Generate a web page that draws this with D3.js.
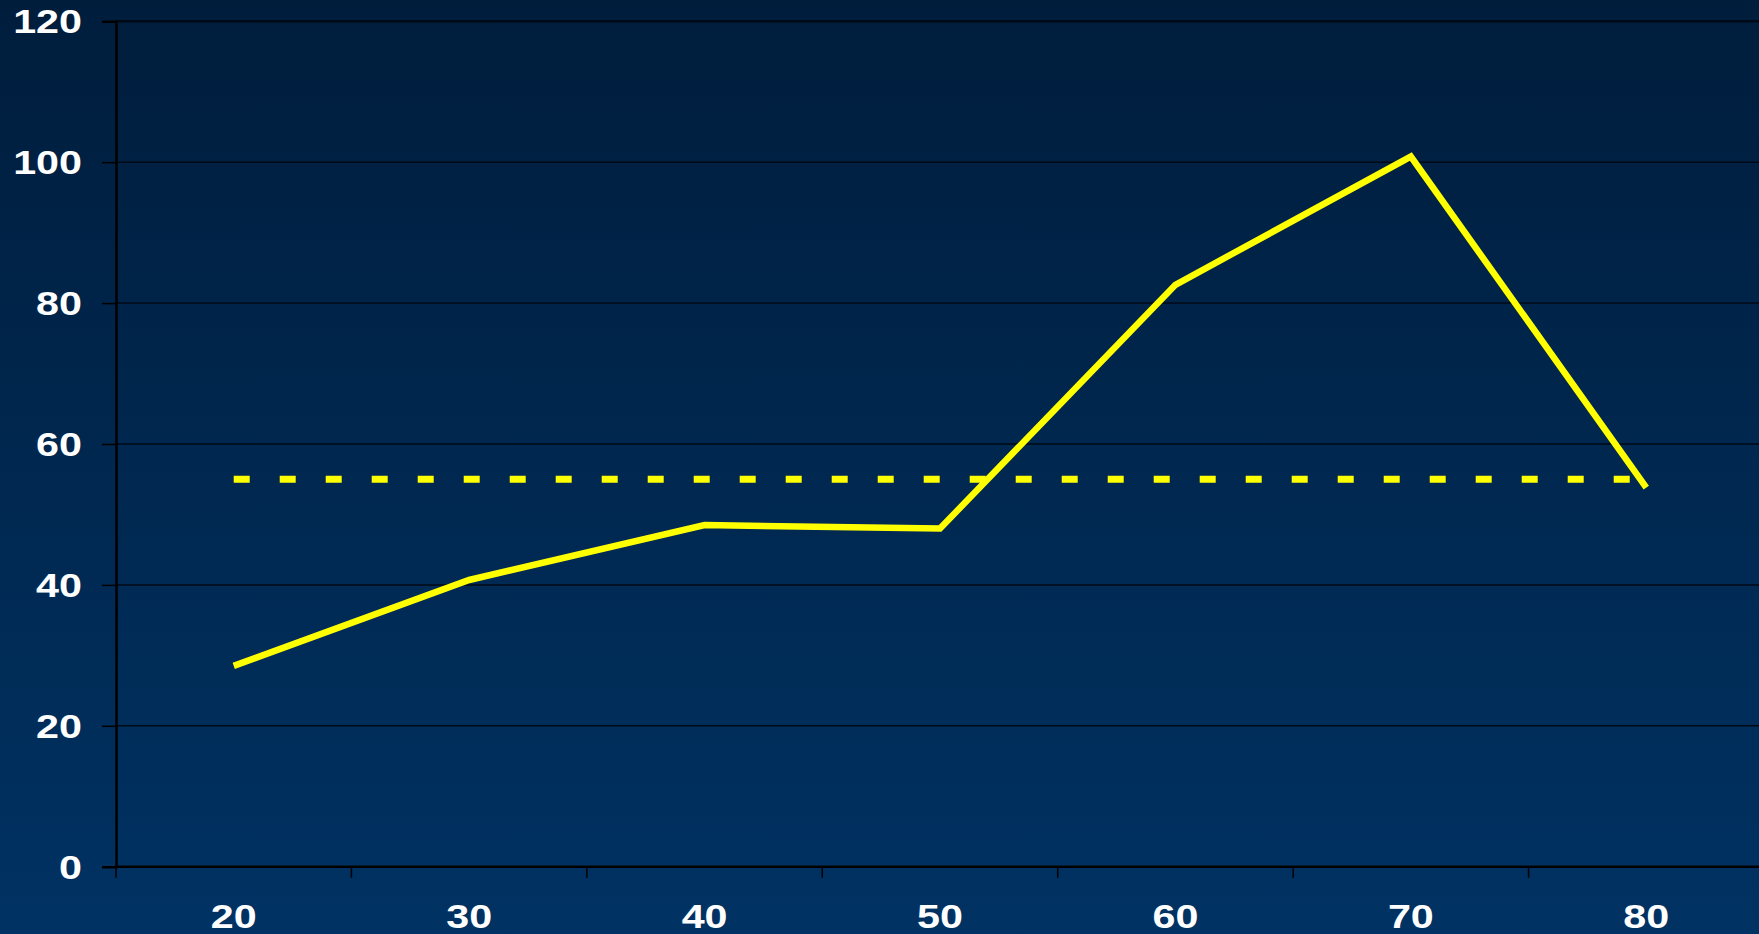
<!DOCTYPE html>
<html><head><meta charset="utf-8">
<script src="https://cdn.jsdelivr.net/npm/d3@7"></script>
<style>html,body{margin:0;padding:0;overflow:hidden;background:#002a55;}</style>
</head><body>
<svg id="c" width="1759" height="934"></svg>
<script>
const categories = ["20","30","40","50","60","70","80"];
const solidValues = [28.5, 40.7, 48.5, 48.0, 82.6, 100.8, 53.8];
const dashedValues = [55, 55, 55, 55, 55, 55, 55];
const yTicks = [0, 20, 40, 60, 80, 100, 120];

(function(){
const W = 1759, H = 934;
const mLeft = 116, mRight = 1764, mTop = 21.3, mBottom = 866.7;
const sx = 1.25;
const svg = d3.select("#c");
const defs = svg.append("defs");
const grad = defs.append("linearGradient").attr("id","bg").attr("x1",0).attr("y1",0).attr("x2",0).attr("y2",1);
grad.append("stop").attr("offset","0%").attr("stop-color","#001d3c");
grad.append("stop").attr("offset","100%").attr("stop-color","#003263");
svg.append("rect").attr("width",W).attr("height",H).attr("fill","url(#bg)");

const x = d3.scaleBand().domain(categories).range([mLeft,mRight]).padding(0);
const y = d3.scaleLinear().domain([0,120]).range([mBottom,mTop]);
const font = "'Liberation Sans', Arial, sans-serif";

// gridlines
svg.append("g").selectAll("line").data(yTicks.filter(d=>d>0)).join("line")
  .attr("x1",mLeft).attr("x2",W).attr("y1",d=>y(d)).attr("y2",d=>y(d))
  .attr("stroke","#000a16").attr("stroke-width",d=>d===120?2.5:1.5);

// y axis
const yAxis = svg.append("g").attr("transform",`translate(${mLeft},0)`)
  .call(d3.axisLeft(y).tickValues(yTicks).tickSize(14).tickFormat(d3.format("d")));
yAxis.select(".domain").attr("stroke","#000").attr("stroke-width",2.5);
yAxis.selectAll(".tick line").attr("stroke","#000").attr("stroke-width",1.5);
yAxis.selectAll(".tick text").attr("x",0).attr("dy","0.35em")
  .attr("transform","translate(-34,0) scale(" + sx + ",1)")
  .attr("fill","#fff").attr("font-family",font).attr("font-weight","bold").attr("font-size",33).attr("text-anchor","end");

// x axis
const xAxis = svg.append("g").attr("transform",`translate(0,${mBottom})`)
  .call(d3.axisBottom(x).tickSize(0).tickPadding(0));
xAxis.select(".domain").remove();
svg.append("line").attr("x1",mLeft).attr("x2",W).attr("y1",mBottom).attr("y2",mBottom)
  .attr("stroke","#000").attr("stroke-width",2.5);
svg.append("g").selectAll("line").data(categories).join("line")
  .attr("x1",d=>x(d)).attr("x2",d=>x(d)).attr("y1",mBottom).attr("y2",mBottom+11)
  .attr("stroke","#000").attr("stroke-width",1.5);
xAxis.selectAll(".tick text").attr("y",0).attr("dy",0)
  .attr("transform","translate(0,61.5) scale(" + sx + ",1)")
  .attr("fill","#fff").attr("font-family",font).attr("font-weight","bold").attr("font-size",33).attr("text-anchor","middle");

const cx = d => x(d) + x.bandwidth()/2;
const line = d3.line().x(d=>cx(d[0])).y(d=>y(d[1]));

svg.append("path").datum(categories.map((c,i)=>[c,dashedValues[i]]))
  .attr("d",line).attr("fill","none").attr("stroke","#ffff00")
  .attr("stroke-width",7).attr("stroke-dasharray","16,30").attr("stroke-dashoffset",0);

svg.append("path").datum(categories.map((c,i)=>[c,solidValues[i]]))
  .attr("d",line).attr("fill","none").attr("stroke","#ffff00")
  .attr("stroke-width",6.5).attr("stroke-linejoin","miter").attr("stroke-linecap","butt");
})();
</script>
</body></html>
